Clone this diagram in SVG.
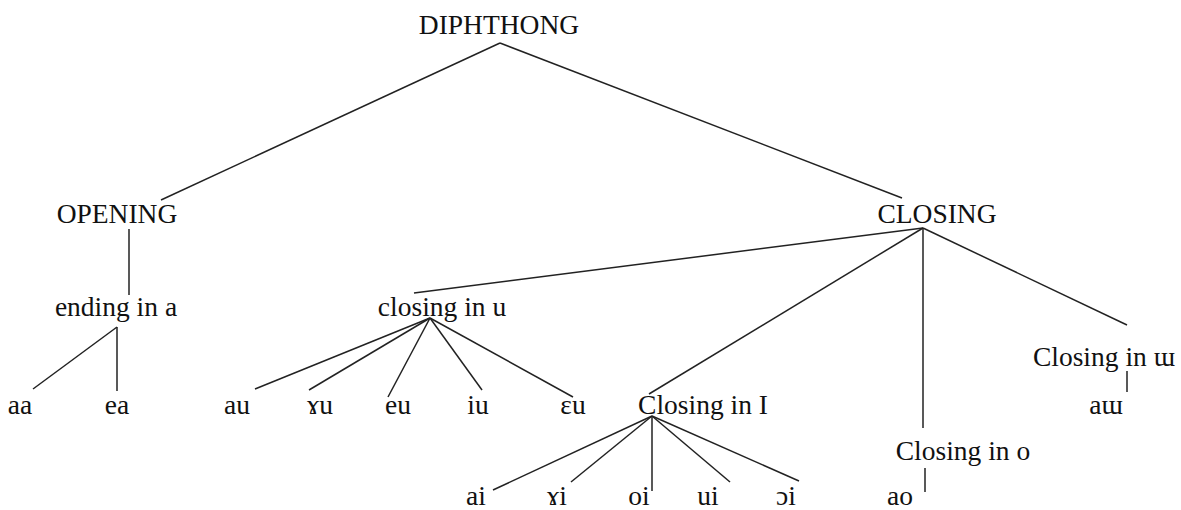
<svg xmlns="http://www.w3.org/2000/svg" width="1181" height="510" viewBox="0 0 1181 510">
<style>
text{font-family:"Liberation Serif","Times New Roman",serif;font-size:27.5px;fill:#111;}
.c{text-anchor:middle;}
line{stroke:#222;stroke-width:1.5;}
</style>
<rect width="1181" height="510" fill="#fff"/>
<g id="connectors">
<line x1="500" y1="43" x2="161" y2="200"/>
<line x1="500" y1="43" x2="902" y2="198"/>
<line x1="129" y1="229" x2="129" y2="295"/>
<line x1="117" y1="327" x2="33" y2="389"/>
<line x1="117" y1="327" x2="117" y2="391"/>
<line x1="923" y1="228" x2="414" y2="293"/>
<line x1="923" y1="228" x2="649" y2="394"/>
<line x1="923" y1="228" x2="923" y2="428"/>
<line x1="923" y1="228" x2="1127" y2="325"/>
<line x1="430" y1="318" x2="255" y2="389"/>
<line x1="430" y1="318" x2="309" y2="390"/>
<line x1="430" y1="318" x2="388" y2="397"/>
<line x1="430" y1="318" x2="482" y2="390"/>
<line x1="430" y1="318" x2="573" y2="397"/>
<line x1="1127" y1="371" x2="1127" y2="392"/>
<line x1="652" y1="416" x2="493" y2="490"/>
<line x1="652" y1="416" x2="571" y2="482"/>
<line x1="652" y1="416" x2="652" y2="491"/>
<line x1="652" y1="416" x2="730" y2="482"/>
<line x1="652" y1="416" x2="799" y2="481"/>
<line x1="925" y1="468" x2="925" y2="492"/>
</g>
<g id="n-diphthong"><text class="c" x="499" y="34">DIPHTHONG</text></g>
<g id="n-opening"><text class="c" x="117" y="223">OPENING</text></g>
<g id="n-closing"><text class="c" x="937" y="223">CLOSING</text></g>
<g id="n-ending-a"><text class="c" x="116" y="316">ending in a</text></g>
<g id="n-closing-u"><text class="c" x="442" y="316">closing in u</text></g>
<g id="n-closing-i"><text class="c" x="703" y="414">Closing in I</text></g>
<g id="n-closing-o"><text class="c" x="963" y="460">Closing in o</text></g>
<g id="n-closing-w"><text class="c" x="1104" y="366">Closing in ɯ</text></g>
<g id="n-aa"><text class="c" x="20" y="414">aa</text></g>
<g id="n-ea"><text class="c" x="117" y="414">ea</text></g>
<g id="n-au"><text class="c" x="237" y="414">au</text></g>
<g id="n-yu"><text class="c" x="320" y="414">ɤu</text></g>
<g id="n-eu"><text class="c" x="398" y="414">eu</text></g>
<g id="n-iu"><text class="c" x="478" y="414">iu</text></g>
<g id="n-epsu"><text class="c" x="573" y="414">ɛu</text></g>
<g id="n-aw"><text class="c" x="1106" y="414">aɯ</text></g>
<g id="n-ai"><text class="c" x="476" y="505">ai</text></g>
<g id="n-yi"><text class="c" x="557" y="505">ɤi</text></g>
<g id="n-oi"><text class="c" x="639" y="505">oi</text></g>
<g id="n-ui"><text class="c" x="708" y="505">ui</text></g>
<g id="n-oopi"><text class="c" x="786" y="505">ɔi</text></g>
<g id="n-ao"><text class="c" x="900" y="505">ao</text></g>
</svg>
